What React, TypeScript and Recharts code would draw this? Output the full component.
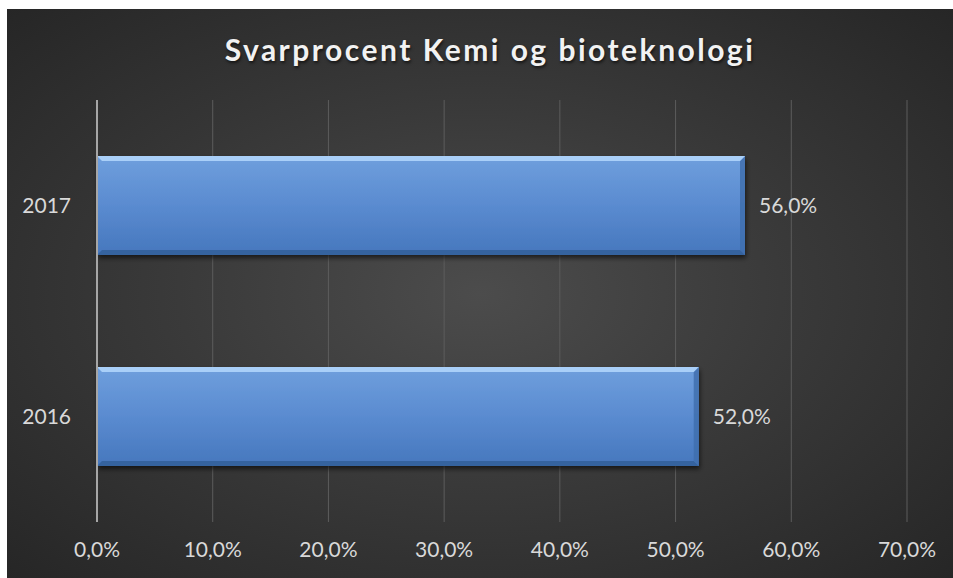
import React from 'react';
import { BarChart, Bar, XAxis, YAxis, CartesianGrid, LabelList } from 'recharts';

const years = ['2016', '2017'];
const responseRate = [0.52, 0.56];
const xTicks = [0, 0.1, 0.2, 0.3, 0.4, 0.5, 0.6, 0.7];

const data = years.map((year, i) => ({ year, rate: responseRate[i] }));

const pct = (v: number) => (v * 100).toFixed(1).replace('.', ',') + '%';

const FONT = 'Lato, "Open Sans", sans-serif';

function BevelBar(props: any) {
  const { x, y, width, height } = props;
  if (!width || !height) return null;
  const b = 5;
  return (
    <g filter="url(#barShadow)">
      <rect x={x} y={y} width={width} height={height} fill="url(#barFill)" />
      <polygon
        points={`${x + width - b},${y + b} ${x + width},${y} ${x + width},${y + height} ${x + width - b},${y + height - b}`}
        fill="#3f6fae"
        opacity={0.85}
      />
      <polygon
        points={`${x},${y} ${x + width},${y} ${x + width - b},${y + b} ${x + b},${y + b}`}
        fill="#a9cff8"
      />
      <polygon
        points={`${x + b},${y + height - b} ${x + width - b},${y + height - b} ${x + width},${y + height} ${x},${y + height}`}
        fill="#36649f"
      />
    </g>
  );
}

export default function App() {
  return (
    <div
      style={{
        position: 'absolute',
        left: 7,
        top: 9,
        width: 946,
        height: 569,
        background: 'radial-gradient(ellipse at 50% 50%, #4c4c4c 0%, #3a3a3a 45%, #262626 100%)',
        fontFamily: FONT,
      }}
    >
      <div
        style={{
          position: 'absolute',
          top: 22,
          left: 10,
          width: 946,
          textAlign: 'center',
          color: '#f2f2f2',
          fontSize: 30,
          fontWeight: 700,
          letterSpacing: 2.5,
          textShadow: '1px 2px 3px rgba(0,0,0,0.6)',
        }}
      >
        Svarprocent Kemi og bioteknologi
      </div>
      <BarChart
        width={946}
        height={569}
        data={data}
        layout="vertical"
        margin={{ top: 91, right: 46, bottom: 0, left: 0 }}
      >
        <defs>
          <linearGradient id="barFill" x1="0" y1="0" x2="0" y2="1">
            <stop offset="0%" stopColor="#6f9fdd" />
            <stop offset="50%" stopColor="#5a8bd0" />
            <stop offset="100%" stopColor="#4677bd" />
          </linearGradient>
          <filter id="barShadow" x="-5%" y="-10%" width="110%" height="130%">
            <feDropShadow dx="1" dy="3" stdDeviation="2.5" floodColor="#000" floodOpacity="0.6" />
          </filter>
        </defs>
        <CartesianGrid horizontal={false} stroke="#5c5c5c" strokeWidth={1} />
        <XAxis
          type="number"
          domain={[0, 0.7]}
          ticks={xTicks}
          tickFormatter={pct}
          height={56}
          axisLine={false}
          tickLine={false}
          tickSize={0}
          tickMargin={20}
          tick={{ fill: '#d9d9d9', fontSize: 21, fontFamily: FONT }}
        />
        <YAxis
          type="category"
          dataKey="year"
          reversed
          width={90}
          axisLine={{ stroke: '#a6a6a6', strokeWidth: 2 }}
          tickLine={false}
          tickSize={0}
          tickMargin={26}
          tick={{ fill: '#d9d9d9', fontSize: 21, fontFamily: FONT }}
        />
        <Bar dataKey="rate" barSize={99} shape={<BevelBar />} isAnimationActive={false}>
          <LabelList
            dataKey="rate"
            position="right"
            offset={14}
            formatter={(v: any) => pct(Number(v))}
            fill="#d9d9d9"
            fontSize={21}
            fontFamily={FONT}
          />
        </Bar>
      </BarChart>
    </div>
  );
}
